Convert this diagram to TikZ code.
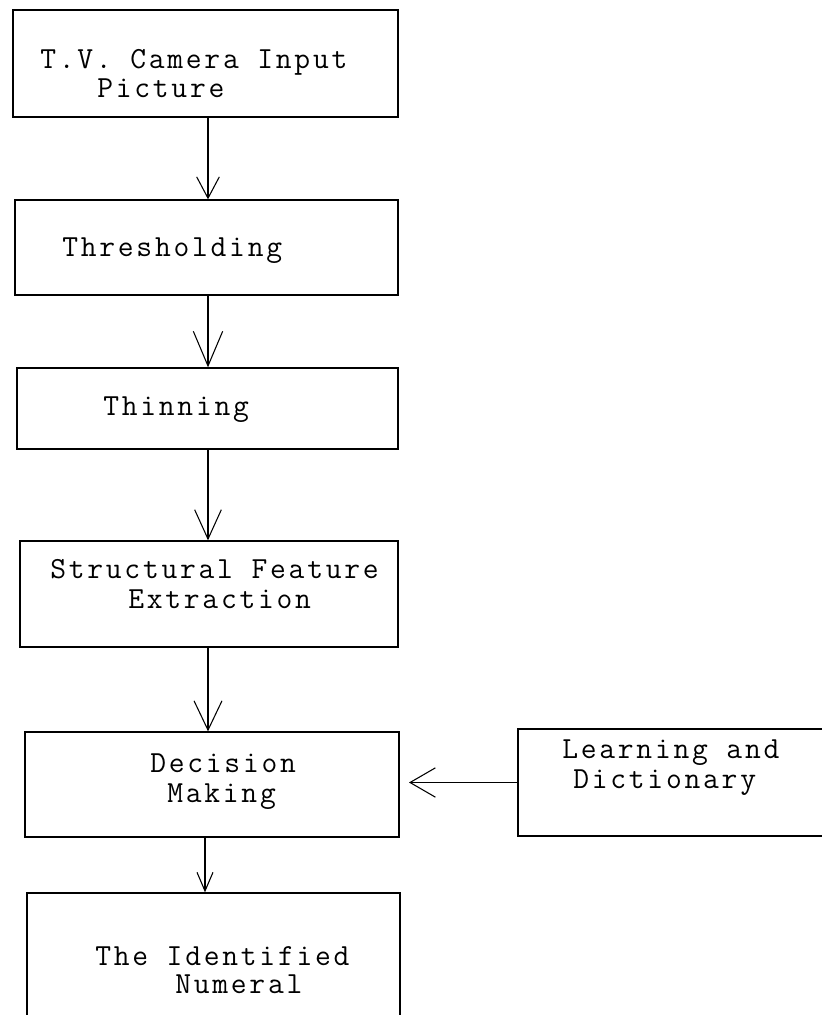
\documentclass[tikz,border=0pt]{standalone}
\usepackage{fontspec}
\usetikzlibrary{arrows.meta,fit}
\newfontfamily\tw{Latin Modern Mono}[LetterSpace=9]
\begin{document}
\begin{tikzpicture}[x=0.75pt,y=-0.75pt,
  box/.style={draw, line width=1pt, inner sep=0pt},
  lbl/.style={font=\tw\fontsize{23pt}{24pt}\selectfont, inner sep=0pt, anchor=base west},
  arr/.style 2 args={line width=0.8pt,-{Straight Barb[length=#1,width=#2]}}]
\useasboundingbox (0,0) rectangle (822,1015);
% boxes
\node[box, fit={(13,10) (398,117)}] (cam) {};
\node[box, fit={(15,200) (398,295)}] (thr) {};
\node[box, fit={(17,368) (398,449)}] (thin) {};
\node[box, fit={(20,541) (398,647)}] (sfe) {};
\node[box, fit={(25,732) (399,837)}] (dec) {};
\node[box, fit={(27,893) (400,1040)}] (num) {};
\node[box, fit={(518,729) (840,836)}] (learn) {};
% labels
\node[lbl] (cam1) at (40,68) {T.V. Camera Input};
\node[lbl] (cam2) at (97,97) {Picture};
\node[lbl] (thr1) at (62,256) {Thresholding};
\node[lbl] (thin1) at (103,415) {Thinning};
\node[lbl] (sfe1) at (50,578) {Structural Feature};
\node[lbl] (sfe2) at (128,608) {Extraction};
\node[lbl] (dec1) at (150,772) {Decision};
\node[lbl] (dec2) at (167,802) {Making};
\node[lbl] (num1) at (95,965) {The Identified};
\node[lbl] (num2) at (175,993) {Numeral};
\node[lbl] (learn1) at (562,758) {Learning and};
\node[lbl] (learn2) at (573,788) {Dictionary};
% connectors
\coordinate (ax) at (208,0);
\coordinate (bx) at (205,0);
\draw[arr={16pt}{17pt}] (cam.south -| ax) -- (thr.north -| ax);
\draw[arr={26pt}{22pt}] (thr.south -| ax) -- (thin.north -| ax);
\draw[arr={22pt}{20pt}] (thin.south -| ax) -- (sfe.north -| ax);
\draw[arr={22pt}{21pt}] (sfe.south -| ax) -- (dec.north -| ax);
\draw[arr={14pt}{12pt}] (dec.south -| bx) -- (num.north -| bx);
\draw[arr={19pt}{22pt}, shorten >=7pt] (learn.west) -- (dec.east |- learn.west);
\end{tikzpicture}
\end{document}
